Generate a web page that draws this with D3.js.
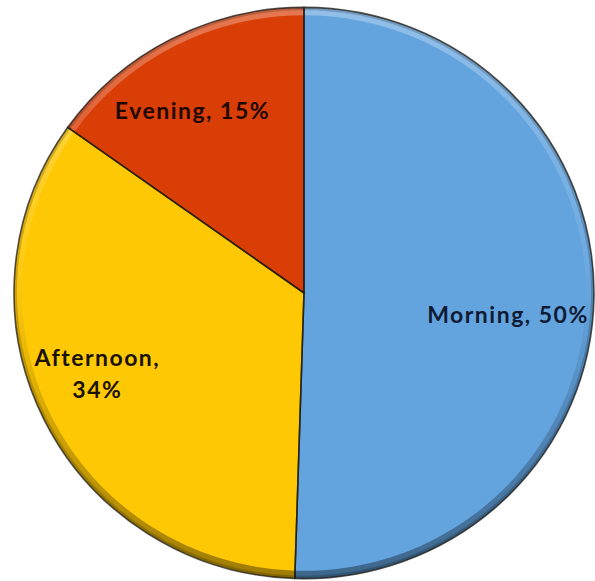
<!DOCTYPE html>
<html>
<head>
<meta charset="utf-8">
<script src="https://cdn.jsdelivr.net/npm/d3@7"></script>
<style>
  html, body { margin: 0; padding: 0; background: #ffffff; }
  svg { display: block; }
  .lbl { font-family: Lato, "Open Sans", sans-serif; font-weight: 700; font-size: 23px; letter-spacing: 1.5px; }
</style>
</head>
<body>
<svg id="chart" width="595" height="581"></svg>
<script>
// Share of time of day
const categories = ["Morning", "Afternoon", "Evening"];
const shares = [50, 34, 15];
const colors = ["#63a4df", "#ffc805", "#da3e07"];
const textColors = ["#0f1a33", "#1a1200", "#1e0800"];
// label lines per slice
const labelLines = [["Morning, 50%"], ["Afternoon,", "34%"], ["Evening, 15%"]];
// small nudges applied to the centroid-based label anchors
const labelNudge = [[-11, 19], [-14, -13], [-13, 6]];

const W = 595, H = 581;
const cx = 304, cy = 293, r = 290;

const svg = d3.select("#chart");
const defs = svg.append("defs");

// rim shading: light at the top, dark at the bottom
const rimGrad = defs.append("linearGradient")
  .attr("id", "rimGrad").attr("gradientUnits", "userSpaceOnUse")
  .attr("x1", 0).attr("y1", -r).attr("x2", 0).attr("y2", r);
rimGrad.append("stop").attr("offset", "0%").attr("stop-color", "#ffffff").attr("stop-opacity", 0.3);
rimGrad.append("stop").attr("offset", "45%").attr("stop-color", "#ffffff").attr("stop-opacity", 0.06);
rimGrad.append("stop").attr("offset", "60%").attr("stop-color", "#000000").attr("stop-opacity", 0.08);
rimGrad.append("stop").attr("offset", "100%").attr("stop-color", "#000000").attr("stop-opacity", 0.38);

const g = svg.append("g")
  .attr("transform", `translate(${cx},${cy}) scale(1,0.985)`);

const pie = d3.pie().sort(null).value(d => d);
const arcs = pie(shares);

const arc = d3.arc().innerRadius(0).outerRadius(r);
const rimArc = d3.arc().innerRadius(r - 8).outerRadius(r);
const edgeArc = d3.arc().innerRadius(r - 3).outerRadius(r);
const labelArc = d3.arc().innerRadius(215).outerRadius(215);

// slices
g.selectAll("path.slice")
  .data(arcs)
  .join("path")
  .attr("class", "slice")
  .attr("d", arc)
  .attr("fill", (d, i) => colors[i]);

// bevel highlight/shadow along the rim
g.selectAll("path.rim")
  .data(arcs)
  .join("path")
  .attr("class", "rim")
  .attr("d", rimArc)
  .attr("fill", "url(#rimGrad)");

g.selectAll("path.edge")
  .data(arcs)
  .join("path")
  .attr("class", "edge")
  .attr("d", edgeArc)
  .attr("fill", "#000")
  .attr("fill-opacity", 0.18);

// slice outlines
g.selectAll("path.outline")
  .data(arcs)
  .join("path")
  .attr("class", "outline")
  .attr("d", arc)
  .attr("fill", "none")
  .attr("stroke", "#1c1a14")
  .attr("stroke-opacity", 0.75)
  .attr("stroke-width", 1.6)
  .attr("stroke-linejoin", "round");

// data labels
const lbl = g.selectAll("text.lbl")
  .data(arcs)
  .join("text")
  .attr("class", "lbl")
  .attr("text-anchor", "middle")
  .attr("fill", (d, i) => textColors[i])
  .attr("transform", (d, i) => {
    const [x, y] = labelArc.centroid(d);
    return `translate(${x + labelNudge[i][0]},${y + labelNudge[i][1]})`;
  });

lbl.each(function(d, i) {
  const lines = labelLines[i];
  const lh = 33;
  const t = d3.select(this);
  lines.forEach((s, k) => {
    t.append("tspan")
      .attr("x", 0)
      .attr("y", (k - (lines.length - 1) / 2) * lh + 8)
      .text(s);
  });
});
</script>
</body>
</html>
